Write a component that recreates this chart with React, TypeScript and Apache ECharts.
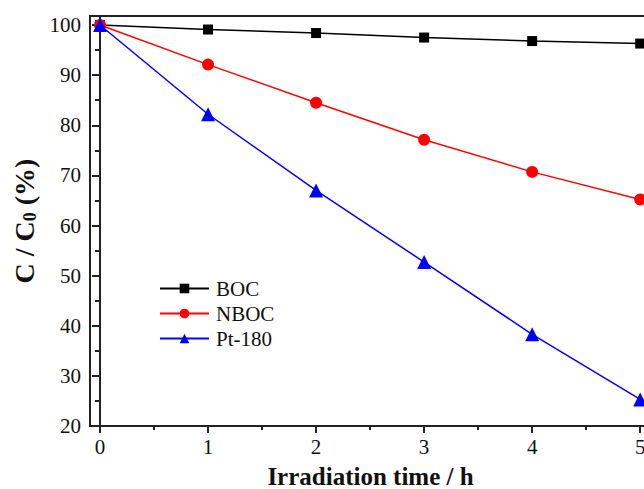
import React, { useEffect, useRef } from "react";
import * as echarts from "echarts";

const times = [0, 1, 2, 3, 4, 5];
const bocValues = [100, 99.1, 98.4, 97.5, 96.8, 96.3];
const nbocValues = [100, 92.1, 84.5, 77.1, 70.7, 65.2];
const ptValues = [100, 82.2, 67.0, 52.7, 38.3, 25.3];
const xMajorTicks = [0, 1, 2, 3, 4, 5];
const xMinorTicks = [0.5, 1.5, 2.5, 3.5, 4.5];

const FONT = "Liberation Serif";

export default function App() {
  const ref = useRef<HTMLDivElement>(null);
  useEffect(() => {
    if (!ref.current) return;
    const chart = echarts.init(ref.current, null, { renderer: "svg" });
    const pair = (vals: number[]) => times.map((t, i) => [t, vals[i]]);
    chart.setOption({
      animation: false,
      backgroundColor: "#fff",
      grid: {
        left: 90,
        top: 16,
        width: 561,
        height: 410,
        show: true,
        borderColor: "#222",
        borderWidth: 2,
        containLabel: false,
        outerBoundsMode: "none",
      },
      legend: {
        orient: "vertical",
        left: 154,
        top: 273,
        itemWidth: 49,
        itemHeight: 12,
        itemGap: 4,
        textStyle: { fontFamily: FONT, fontSize: 21, color: "#111", padding: [0, 0, 0, 2] },
        data: ["BOC", "NBOC", "Pt-180"],
      },
      xAxis: [
        {
          type: "value",
          min: -0.0926,
          max: 5.1,
          name: "Irradiation time / h",
          nameLocation: "middle",
          nameGap: 38,
          nameTextStyle: { fontFamily: FONT, fontSize: 25, fontWeight: "bold", color: "#111" },
          axisLine: { show: true, onZero: false, lineStyle: { color: "#222", width: 2 } },
          axisTick: { show: true, customValues: xMajorTicks, length: 7, lineStyle: { color: "#222", width: 2 } },
          axisLabel: { customValues: xMajorTicks, fontFamily: FONT, fontSize: 21, color: "#111", margin: 10 },
          splitLine: { show: false },
        },
        {
          type: "value",
          min: -0.0926,
          max: 5.1,
          position: "bottom",
          axisLine: { show: false },
          axisTick: { show: true, customValues: xMinorTicks, length: 4, lineStyle: { color: "#222", width: 2 } },
          axisLabel: { show: false },
          splitLine: { show: false },
        },
      ],
      yAxis: {
        type: "value",
        min: 20,
        max: 101.8,
        interval: 10,
        name: "C / C{sub|0} (%)",
        nameLocation: "middle",
        nameGap: 50,
        nameTextStyle: {
          fontFamily: FONT,
          fontSize: 28,
          fontWeight: "bold",
          color: "#111",
          rich: { sub: { fontFamily: FONT, fontSize: 18, fontWeight: "bold", color: "#111", verticalAlign: "bottom", padding: [10, 0, 0, 0] } },
        },
        axisLine: { show: true, lineStyle: { color: "#222", width: 2 } },
        axisTick: { show: true, length: 8, lineStyle: { color: "#222", width: 2 } },
        minorTick: { show: true, splitNumber: 2, length: 5, lineStyle: { color: "#222", width: 2 } },
        axisLabel: {
          fontFamily: FONT,
          fontSize: 21,
          color: "#111",
          margin: 9,
          formatter: (v: number) => (Math.abs(v % 10) < 1e-6 ? String(v) : ""),
        },
        splitLine: { show: false },
      },
      series: [
        {
          name: "BOC",
          type: "line",
          data: pair(bocValues),
          symbol: "rect",
          symbolSize: 10,
          itemStyle: { color: "#000" },
          lineStyle: { color: "#000", width: 1.5 },
        },
        {
          name: "NBOC",
          type: "line",
          data: pair(nbocValues),
          symbol: "circle",
          symbolSize: 12,
          itemStyle: { color: "#ff0000" },
          lineStyle: { color: "#ff0000", width: 1.5 },
        },
        {
          name: "Pt-180",
          type: "line",
          data: pair(ptValues),
          symbol: "triangle",
          symbolSize: 14,
          itemStyle: { color: "#0000ff" },
          lineStyle: { color: "#0000ff", width: 1.5 },
        },
      ],
    });
    return () => chart.dispose();
  }, []);
  return <div ref={ref} style={{ position: "fixed", left: 0, top: 0, width: 644, height: 489 }} />;
}
